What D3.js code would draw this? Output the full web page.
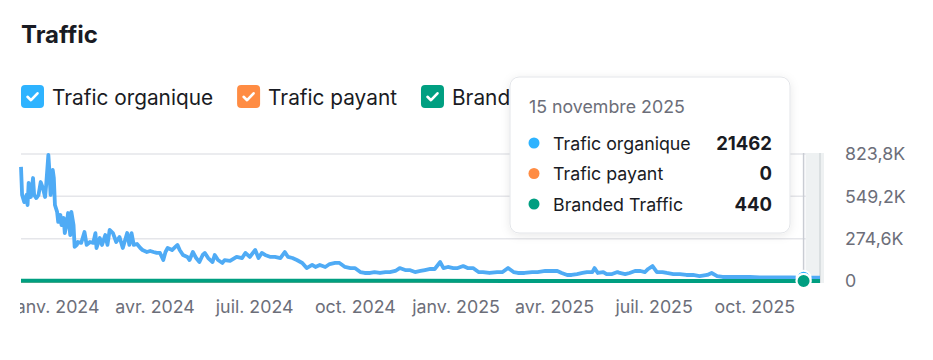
<!DOCTYPE html>
<html><head><meta charset="utf-8">
<script src="https://cdn.jsdelivr.net/npm/d3@7"></script>
<style>
html,body{margin:0;padding:0;background:#fff;}
svg{display:block;font-family:Inter,"Noto Sans",sans-serif;}
</style></head>
<body>
<svg id="c" width="933" height="360"></svg>
<script>
// ---------- DATA ----------
const organicDates = ["2023-12-01","2023-12-02","2023-12-04","2023-12-06","2023-12-07","2023-12-08","2023-12-09","2023-12-10","2023-12-12","2023-12-13","2023-12-15","2023-12-17","2023-12-19","2023-12-21","2023-12-23","2023-12-24","2023-12-26","2023-12-27","2023-12-28","2023-12-30","2023-12-31",
"2024-01-01","2024-01-03","2024-01-04","2024-01-06","2024-01-07","2024-01-09","2024-01-10","2024-01-12","2024-01-13","2024-01-15","2024-01-16","2024-01-18","2024-01-19","2024-01-21","2024-01-22","2024-01-25","2024-01-28","2024-01-30",
"2024-02-02","2024-02-05","2024-02-07","2024-02-08","2024-02-11","2024-02-13","2024-02-16","2024-02-18","2024-02-20","2024-02-23","2024-02-26","2024-02-29",
"2024-03-03","2024-03-07","2024-03-09","2024-03-11","2024-03-13","2024-03-16","2024-03-19","2024-03-21","2024-03-25","2024-03-28","2024-03-31",
"2024-04-03","2024-04-06","2024-04-09","2024-04-11","2024-04-13","2024-04-17","2024-04-20","2024-04-22","2024-04-24","2024-04-27",
"2024-05-01","2024-05-03","2024-05-06","2024-05-09","2024-05-12","2024-05-15","2024-05-17","2024-05-20","2024-05-24","2024-05-26","2024-05-29",
"2024-06-02","2024-06-04","2024-06-09","2024-06-15","2024-06-20","2024-06-23","2024-06-27",
"2024-07-02","2024-07-05","2024-07-08","2024-07-11","2024-07-16","2024-07-20","2024-07-25","2024-07-29",
"2024-08-01","2024-08-05","2024-08-09","2024-08-14","2024-08-18","2024-08-23","2024-08-26","2024-08-30",
"2024-09-04","2024-09-08","2024-09-13","2024-09-17","2024-09-22","2024-09-27",
"2024-10-01","2024-10-06","2024-10-10","2024-10-15","2024-10-19","2024-10-24","2024-10-29",
"2024-11-02","2024-11-07","2024-11-11","2024-11-16","2024-11-20","2024-11-25","2024-11-30",
"2024-12-04","2024-12-09","2024-12-13","2024-12-18","2024-12-21","2024-12-25","2024-12-30",
"2025-01-03","2025-01-08","2025-01-12","2025-01-17","2025-01-22","2025-01-26",
"2025-02-01","2025-02-08","2025-02-13","2025-02-18","2025-02-23","2025-02-27",
"2025-03-05","2025-03-12","2025-03-17","2025-03-24","2025-03-30",
"2025-04-04","2025-04-08","2025-04-13","2025-04-17","2025-04-22","2025-04-27",
"2025-05-01","2025-05-06","2025-05-08","2025-05-11","2025-05-16","2025-05-19","2025-05-24","2025-05-29","2025-05-31",
"2025-06-05","2025-06-09","2025-06-14","2025-06-19","2025-06-23","2025-06-26","2025-06-30",
"2025-07-04","2025-07-09","2025-07-13","2025-07-19","2025-07-25","2025-07-31",
"2025-08-06","2025-08-12","2025-08-19","2025-08-23","2025-08-28",
"2025-09-02","2025-09-09","2025-09-18","2025-09-27",
"2025-10-06","2025-10-15","2025-10-25",
"2025-11-03","2025-11-15","2025-11-23","2025-11-30"];
// organic traffic, thousands of visits
const organicK = [740,558,512,558,493,636,577,545,668,558,538,558,642,603,545,623,818,707,558,720,668,
493,448,383,428,363,409,311,383,441,298,448,363,221,234,253,247,318,234,
253,247,311,214,279,234,298,234,331,311,253,285,
214,311,234,311,234,240,214,201,188,195,188,
182,182,136,188,214,201,221,234,201,169,
156,136,188,149,123,169,182,149,123,169,136,
117,136,130,156,149,182,156,
201,149,182,169,156,156,149,188,
156,149,136,117,84,104,91,104,
91,110,117,117,91,84,
84,58,52,52,58,52,58,
58,65,84,71,71,58,65,
71,78,78,123,84,91,84,
84,97,84,84,58,58,
52,58,58,84,58,52,
52,58,58,65,65,
65,52,39,39,45,52,
58,58,84,52,58,45,45,58,52,
45,52,65,65,58,78,97,
58,58,52,45,45,39,
39,32,39,52,32,
26,26,26,26,
24,24,23,
23,21.462,21.5,21.3];
const brandedDates = ["2023-12-01","2024-03-01","2024-06-01","2024-09-01","2024-12-01","2025-03-01","2025-06-01","2025-09-01","2025-11-15","2025-11-30"];
const brandedValues = [1800,1500,1200,1000,900,800,700,550,440,430];
const paidDates = ["2023-12-01","2025-11-30"];
const paidValues = [0,0];
const yTickValues = [0,274600,549200,823800];
const yTickLabels = ["0","274,6K","549,2K","823,8K"];
const xTickDates = ["2024-01-01","2024-04-01","2024-07-01","2024-10-01","2025-01-01","2025-04-01","2025-07-01","2025-10-01"];
const xTickLabels = ["janv. 2024","avr. 2024","juil. 2024","oct. 2024","janv. 2025","avr. 2025","juil. 2025","oct. 2025"];
const seriesNames = ["Trafic organique","Trafic payant","Branded Traffic"];
const hoverDate = "2025-11-15";
const hoverLabel = "15 novembre 2025";
const hoverValues = ["21462","0","440"];
const title = "Traffic";

// ---------- SETUP ----------
const colors = {org:"#4fabf5", orgDot:"#2eb3ff", paid:"#ff8c43", brand:"#009f81"};
const parse = d3.utcParse("%Y-%m-%d");
const svg = d3.select("#c");
const L = 21, R = 820, T = 154, B = 281;
const FS = 17.8;
const x = d3.scaleUtc().domain([parse("2023-12-01"), parse("2025-11-30")]).range([L, R]);
const y = d3.scaleLinear().domain([0, 823800]).range([B, T]);

const organic = organicDates.map((d,i)=>({date:parse(d), v:organicK[i]*1000}));
const branded = brandedDates.map((d,i)=>({date:parse(d), v:brandedValues[i]}));
const paid = paidDates.map((d,i)=>({date:parse(d), v:paidValues[i]}));

// title
svg.append("text").attr("x",21).attr("y",43).attr("font-size",24).attr("font-weight",700)
  .attr("fill","#191b23").text(title);

// legend
const legColors = [colors.orgDot, colors.paid, colors.brand];
let lx = 21;
seriesNames.forEach((n,i)=>{
  const g = svg.append("g").attr("transform",`translate(${lx},85)`);
  g.append("rect").attr("width",23).attr("height",23).attr("rx",4).attr("fill",legColors[i]);
  g.append("path").attr("d","M6.5 11.8 L10 15.2 L16.5 8.3").attr("fill","none")
   .attr("stroke","#fff").attr("stroke-width",2.6).attr("stroke-linecap","round").attr("stroke-linejoin","round");
  const t = g.append("text").attr("x",31).attr("y",20).attr("font-size",20.8).attr("fill","#191b23").text(n);
  lx += 31 + t.node().getComputedTextLength() + 24;
});

// grid
svg.append("g").selectAll("line").data(yTickValues.slice(1)).join("line")
  .attr("x1",L).attr("x2",R).attr("y1",d=>y(d)).attr("y2",d=>y(d))
  .attr("stroke","#e5e6ea").attr("stroke-width",1.5);

// shaded right band
svg.append("rect").attr("x",x(parse(hoverDate))+2).attr("y",T-1).attr("width",R+4-(x(parse(hoverDate))+2)).attr("height",B-T+3)
  .attr("fill","#eef1f2");
svg.append("line").attr("x1",R).attr("x2",R).attr("y1",T-1).attr("y2",B+2).attr("stroke","#d3d8db").attr("stroke-width",1.5);

// lines
const line = d3.line().x(d=>x(d.date)).y(d=>y(d.v)).curve(d3.curveLinear);
svg.append("path").datum(organic).attr("d",line).attr("fill","none").attr("stroke",colors.org)
  .attr("stroke-width",3.8).attr("stroke-linejoin","round");
svg.append("path").datum(paid).attr("d",line).attr("fill","none").attr("stroke",colors.paid).attr("stroke-width",3);
svg.append("path").datum(branded).attr("d",line).attr("fill","none").attr("stroke",colors.brand).attr("stroke-width",4);

// hover line and dots
const hx = x(parse(hoverDate));
svg.append("line").attr("x1",hx).attr("x2",hx).attr("y1",T-1).attr("y2",B).attr("stroke","#c9ccd3").attr("stroke-width",1.5);
const hv = [+hoverValues[0], +hoverValues[1], +hoverValues[2]];
[[hv[0],colors.orgDot],[hv[1],colors.paid],[hv[2],colors.brand]].forEach(([v,c])=>{
  svg.append("circle").attr("cx",hx).attr("cy",y(v)).attr("r",7).attr("fill",c).attr("stroke","#fff").attr("stroke-width",2);
});

// x axis (clipped at left plot edge)
svg.append("clipPath").attr("id","xc").append("rect").attr("x",20).attr("y",285).attr("width",900).attr("height",45);
const xwrap = svg.append("g").attr("clip-path","url(#xc)");
const xa = xwrap.append("g").attr("transform",`translate(0,${B+19})`)
  .call(d3.axisBottom(x).tickValues(xTickDates.map(parse)).tickSize(0).tickPadding(0)
    .tickFormat((d,i)=>xTickLabels[i]));
xa.select(".domain").remove();
xa.selectAll("text").attr("font-size",FS).attr("fill","#6c6e79").attr("font-family","Inter,sans-serif").attr("dy","0.71em");

// y axis
const ya = svg.append("g").attr("transform",`translate(845,0)`)
  .call(d3.axisRight(y).tickValues(yTickValues).tickSize(0).tickPadding(0).tickFormat((d,i)=>yTickLabels[i]));
ya.select(".domain").remove();
ya.selectAll("text").attr("font-size",FS).attr("fill","#6c6e79").attr("font-family","Inter,sans-serif");

// tooltip
const defs = svg.append("defs");
const f = defs.append("filter").attr("id","sh").attr("x","-20%").attr("y","-20%").attr("width","140%").attr("height","140%");
f.append("feDropShadow").attr("dx",0).attr("dy",2).attr("stdDeviation",5).attr("flood-color","#000").attr("flood-opacity",0.09);
const tt = svg.append("g").attr("transform","translate(510,77)");
tt.append("rect").attr("width",280).attr("height",156).attr("rx",9).attr("fill","#fff")
  .attr("stroke","#e3e5e9").attr("stroke-width",1).attr("filter","url(#sh)");
tt.append("text").attr("x",19).attr("y",36).attr("font-size",FS).attr("fill","#6c6e79").text(hoverLabel);
seriesNames.forEach((n,i)=>{
  const ry = 66 + i*30.5;
  tt.append("circle").attr("cx",24).attr("cy",ry).attr("r",5.5).attr("fill",legColors[i]);
  tt.append("text").attr("x",43).attr("y",ry+6.5).attr("font-size",FS).attr("fill","#191b23").text(n);
  tt.append("text").attr("x",262).attr("y",ry+6.5).attr("font-size",18.5).attr("font-weight",700)
    .attr("text-anchor","end").attr("fill","#191b23").text(hoverValues[i]);
});
</script>
</body></html>
